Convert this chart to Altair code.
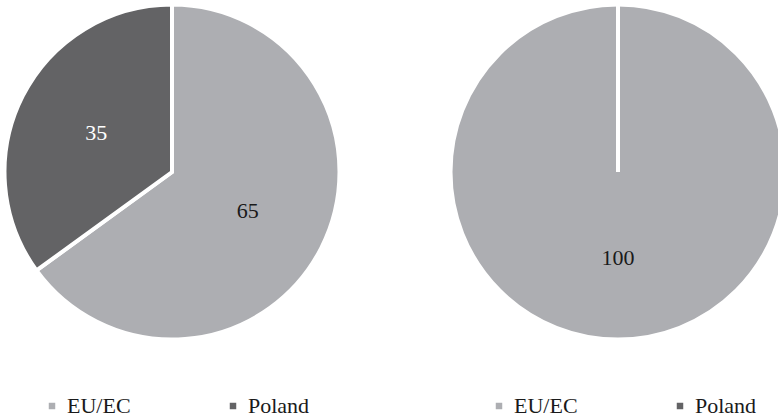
import altair as alt
import pandas as pd

# Shares by source of funding, two programmes
sources = ["EU/EC", "Poland"]
left_values = [65, 35]
right_values = [100, 0]

colors = ["#adaeb2", "#636365"]
FONT = "Liberation Serif"

left_df = pd.DataFrame({"source": sources, "value": left_values})
right_df = pd.DataFrame({"source": sources, "value": right_values})


def pie(df, cx, label_r, legend_x):
    base = alt.Chart(df).encode(
        theta=alt.Theta("value:Q", stack=True),
        order=alt.Order("source:N", sort="ascending"),
        x=alt.value(cx),
        y=alt.value(172),
    )
    arcs = base.mark_arc(radius=167.5, stroke="white", strokeWidth=4).encode(
        color=alt.Color(
            "source:N",
            scale=alt.Scale(domain=sources, range=colors),
            legend=alt.Legend(
                title=None,
                orient="none",
                direction="horizontal",
                legendX=legend_x,
                legendY=395,
                padding=0,
                symbolType="square",
                symbolSize=42,
                symbolStrokeWidth=0,
                labelFont=FONT,
                labelFontSize=22,
                labelColor="#1a1a1a",
                labelOffset=4,
                columnPadding=91,
            ),
        )
    )
    labels = (
        base.transform_filter(alt.datum.value > 0)
        .mark_text(radius=label_r, font=FONT, fontSize=22)
        .encode(
            text=alt.Text("value:Q"),
            detail="source:N",
            color=alt.when(alt.datum.source == "Poland")
            .then(alt.value("white"))
            .otherwise(alt.value("#1a1a1a")),
        )
    )
    return arcs, labels


la, lt = pie(left_df, 172, 85, 41)
ra, rt = pie(right_df, 618, 86, 488)

chart = (
    alt.layer(la, lt, ra, rt)
    .resolve_scale(color="independent")
    .properties(width=778, height=418, padding=0, autosize=alt.AutoSizeParams(type="none"))
    .configure_view(stroke=None)
)

chart.save("out.html", embed_options={"renderer": "svg", "actions": False})
